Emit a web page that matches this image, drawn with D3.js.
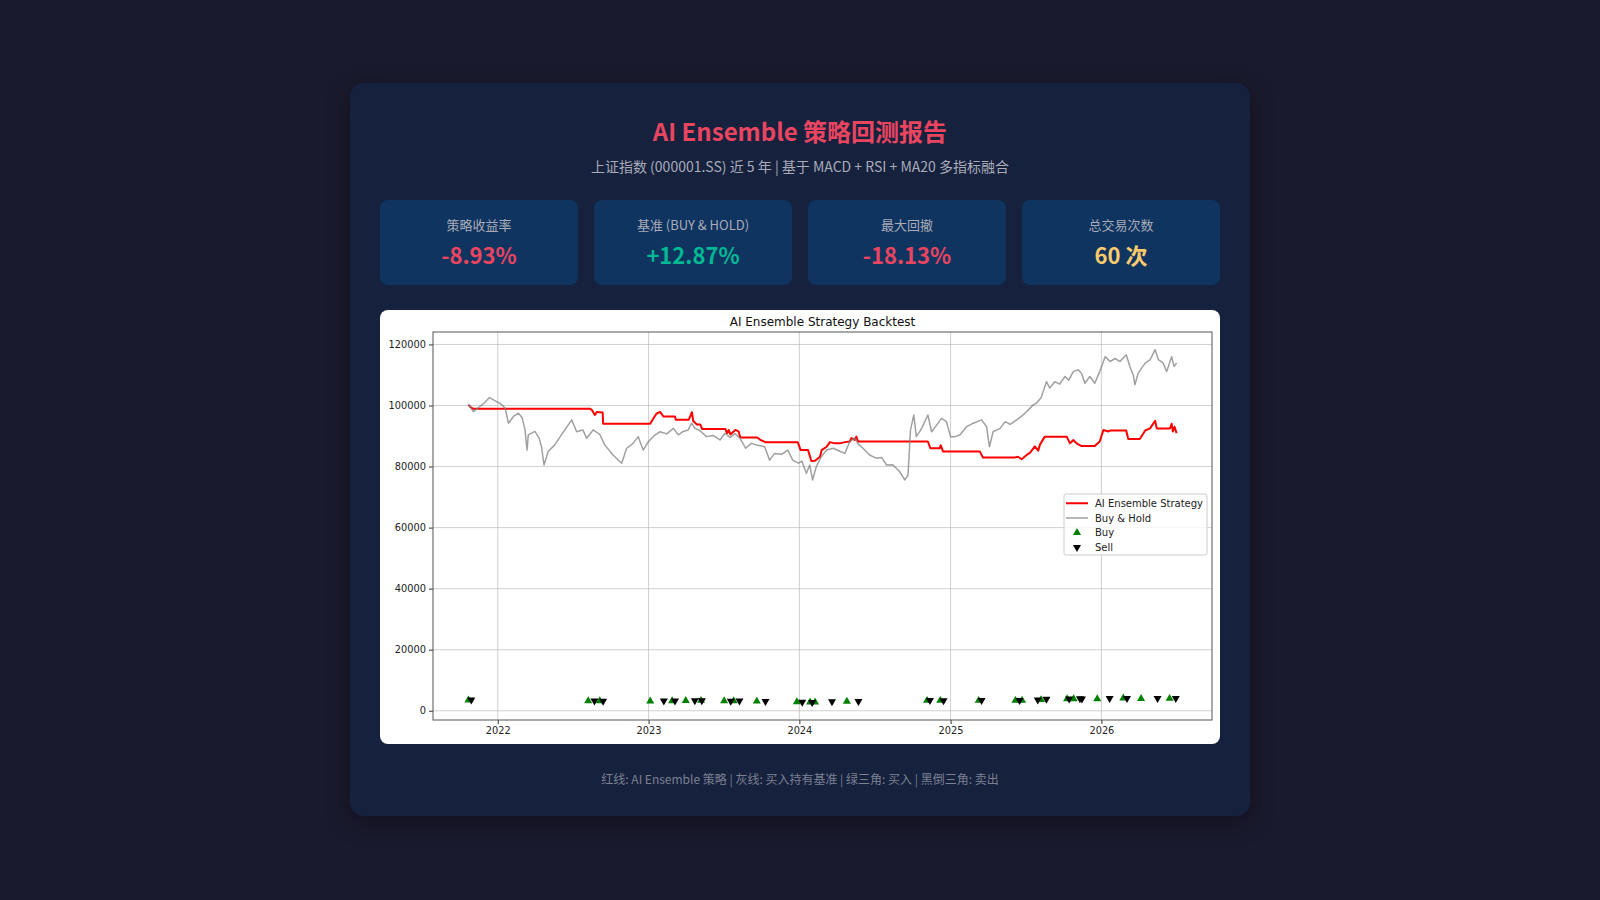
<!DOCTYPE html>
<html lang="zh">
<head>
<meta charset="utf-8">
<title>AI Ensemble 策略回测报告</title>
<script src="https://cdn.jsdelivr.net/npm/d3@7"></script>
<style>
  body { margin:0; width:1600px; height:900px; overflow:hidden; background:#1a1a2e;
         font-family:"Noto Sans CJK SC","Noto Sans",sans-serif; }
  .card { position:absolute; left:350px; top:83px; width:900px; height:733px; box-sizing:border-box;
          padding:30px 30px 28px 30px; background:#16213e; border-radius:14px;
          box-shadow:0 6px 24px rgba(0,0,0,0.35); }
  h1 { margin:0; font-size:24px; line-height:36px; text-align:center; color:#e94560; font-weight:700; }
  .sub { margin-top:7px; font-size:14px; line-height:20px; text-align:center; color:#a9abb8; }
  .stats { display:flex; gap:16px; margin-top:24px; }
  .stat { width:198px; height:85px; box-sizing:border-box; padding-top:15px; background:#0f3460;
          border-radius:8px; text-align:center; }
  .stat .lab { font-size:13px; line-height:20px; color:#a9abb8; }
  .stat .val { font-size:22px; line-height:30px; margin-top:4px; font-weight:700; }
  #chart { margin-top:25px; width:840px; height:434px; background:#fff; border-radius:8px; overflow:hidden; }
  .foot { margin-top:26px; font-size:12px; line-height:18px; text-align:center; color:#7c8091; }
</style>
</head>
<body>
<div class="card">
  <h1>AI Ensemble 策略回测报告</h1>
  <div class="sub">上证指数 (000001.SS) 近 5 年 | 基于 MACD + RSI + MA20 多指标融合</div>
  <div class="stats" id="stats"></div>
  <div id="chart"></div>
  <div class="foot">红线: AI Ensemble 策略 | 灰线: 买入持有基准 | 绿三角: 买入 | 黑倒三角: 卖出</div>
</div>
<script>
// summary numbers
var statLabels = ["策略收益率", "基准 (BUY & HOLD)", "最大回撤", "总交易次数"];
var statValues = ["-8.93%", "+12.87%", "-18.13%", "60 次"];
var statColors = ["#e94560", "#00b894", "#e94560", "#fdcb6e"];

// portfolio value of the strategy (red)
var strategy = [
  ["2021-10-22",100200],["2021-10-27",99500],["2021-11-02",98900],["2022-08-13",98900],["2022-08-17",98500],
  ["2022-08-24",96900],["2022-08-29",97900],["2022-09-05",97800],["2022-09-12",97700],["2022-09-13",94000],
  ["2023-01-05",94000],["2023-01-13",95800],["2023-01-20",97300],["2023-01-29",97900],["2023-02-06",96400],
  ["2023-03-06",96400],["2023-03-08",95300],["2023-04-08",95300],["2023-04-12",96500],["2023-04-16",97800],
  ["2023-04-19",94900],["2023-04-28",93800],["2023-05-06",93800],["2023-05-11",92300],["2023-07-06",92300],
  ["2023-07-10",90900],["2023-07-14",92000],["2023-07-18",90500],["2023-07-30",92000],["2023-08-07",91500],
  ["2023-08-11",89500],["2023-09-21",89500],["2023-09-29",88700],["2023-10-11",88000],["2023-12-28",88000],
  ["2024-01-01",86500],["2024-01-04",85400],["2024-01-22",85400],["2024-01-30",81800],["2024-02-08",81900],
  ["2024-02-20",83200],["2024-02-24",85400],["2024-03-07",86500],["2024-03-15",88000],["2024-03-27",87600],
  ["2024-04-08",87600],["2024-04-20",88000],["2024-05-02",88200],["2024-05-06",89300],["2024-05-14",88700],
  ["2024-05-18",89800],["2024-05-22",88200],["2024-11-07",88200],["2024-11-13",86000],["2024-12-06",86000],
  ["2024-12-08",87000],["2024-12-14",84900],["2025-03-13",84900],["2025-03-20",83000],["2025-06-06",83000],
  ["2025-06-13",83200],["2025-06-22",82400],["2025-07-04",83800],["2025-07-12",84500],["2025-07-24",86600],
  ["2025-08-01",85200],["2025-08-05",87100],["2025-08-17",89800],["2025-10-09",89800],["2025-10-17",87600],
  ["2025-10-25",88700],["2025-11-02",87600],["2025-11-14",86700],["2025-12-16",86700],["2025-12-28",88200],
  ["2026-01-06",92000],["2026-01-18",91500],["2026-01-22",91800],["2026-03-02",91800],["2026-03-07",89000],
  ["2026-04-04",89000],["2026-04-17",91800],["2026-04-29",92500],["2026-05-11",95000],["2026-05-15",92500],
  ["2026-06-16",92500],["2026-06-20",94000],["2026-06-23",91500],["2026-06-27",93000],["2026-07-02",90900]
];

// buy & hold benchmark (gray)
var buyHold = [
  ["2021-10-22",100400],["2021-11-03",98000],["2021-11-17",99500],["2021-11-29",100800],["2021-12-12",102600],
  ["2021-12-26",101500],["2022-01-09",100500],["2022-01-19",99100],["2022-01-27",94200],["2022-02-08",96400],
  ["2022-02-20",97500],["2022-03-01",96000],["2022-03-08",92000],["2022-03-13",85400],["2022-03-16",90400],
  ["2022-04-01",91500],["2022-04-11",89300],["2022-04-17",86500],["2022-04-23",80500],["2022-05-03",84900],
  ["2022-05-19",87100],["2022-06-04",90400],["2022-06-15",92500],["2022-06-29",95300],["2022-07-11",91400],
  ["2022-07-26",92000],["2022-08-04",89300],["2022-08-20",92000],["2022-09-05",90500],["2022-09-17",87100],
  ["2022-10-07",83800],["2022-10-28",81100],["2022-11-09",86000],["2022-11-24",87500],["2022-12-07",89800],
  ["2022-12-19",85400],["2023-01-01",88200],["2023-01-17",90400],["2023-01-29",91400],["2023-02-14",90700],
  ["2023-03-02",92500],["2023-03-14",90400],["2023-03-26",91500],["2023-04-07",92000],["2023-04-15",94200],
  ["2023-04-23",92500],["2023-05-05",91800],["2023-05-21",89800],["2023-06-06",90200],["2023-06-23",88700],
  ["2023-07-05",90900],["2023-07-17",89500],["2023-07-29",90800],["2023-08-10",89300],["2023-08-24",86000],
  ["2023-09-07",87600],["2023-09-22",87000],["2023-10-09",86500],["2023-10-21",82100],["2023-11-02",84300],
  ["2023-11-19",84000],["2023-12-04",85400],["2023-12-16",82100],["2023-12-30",81100],["2024-01-07",81800],
  ["2024-01-18",77800],["2024-01-26",80500],["2024-02-02",75600],["2024-02-11",80000],["2024-02-23",83200],
  ["2024-03-07",85400],["2024-03-23",86000],["2024-04-08",85000],["2024-04-20",84300],["2024-05-02",88200],
  ["2024-05-14",89300],["2024-05-22",87500],["2024-06-03",86000],["2024-06-19",83800],["2024-07-06",82700],
  ["2024-07-18",83000],["2024-07-30",80500],["2024-08-14",80600],["2024-08-31",78300],["2024-09-12",75600],
  ["2024-09-20",77200],["2024-09-26",92000],["2024-10-04",96900],["2024-10-10",89800],["2024-10-23",92500],
  ["2024-11-07",96900],["2024-11-16",91400],["2024-11-28",93500],["2024-12-10",95800],["2024-12-22",94700],
  ["2025-01-01",89800],["2025-01-12",89800],["2025-01-24",90400],["2025-02-09",93100],["2025-02-25",94200],
  ["2025-03-17",95300],["2025-03-29",93100],["2025-04-05",86500],["2025-04-14",91400],["2025-05-01",92500],
  ["2025-05-13",94700],["2025-05-25",93800],["2025-06-10",95300],["2025-06-22",96500],["2025-07-04",98000],
  ["2025-07-20",100200],["2025-07-28",100800],["2025-08-08",102500],["2025-08-21",107800],["2025-08-29",105700],
  ["2025-09-10",107800],["2025-09-22",107000],["2025-10-05",109500],["2025-10-14",108300],["2025-10-25",111100],
  ["2025-11-06",111700],["2025-11-14",110500],["2025-11-22",107300],["2025-12-04",109500],["2025-12-16",107300],
  ["2025-12-28",111100],["2026-01-10",116000],["2026-01-22",114400],["2026-02-03",115400],["2026-02-15",114400],
  ["2026-03-02",116600],["2026-03-11",112800],["2026-03-19",110000],["2026-03-23",106800],["2026-03-31",110600],
  ["2026-04-17",113900],["2026-04-29",115000],["2026-05-11",118300],["2026-05-19",115000],["2026-05-30",114000],
  ["2026-06-08",111100],["2026-06-20",116000],["2026-06-26",112800],["2026-07-02",113900]
];

// trade signals, plotted at the index close
var buys = [
  ["2021-10-22",3500],["2022-08-08",3250],["2022-09-05",3250],["2023-01-05",3150],["2023-02-27",3250],
  ["2023-04-01",3300],["2023-05-08",3350],["2023-07-03",3200],["2023-07-26",3200],["2023-09-20",3100],
  ["2023-12-26",2900],["2024-01-27",2800],["2024-02-08",2800],["2024-04-25",3050],["2024-11-05",3350],
  ["2024-12-07",3350],["2025-03-10",3350],["2025-06-07",3350],["2025-06-23",3400],["2025-08-08",3600],
  ["2025-10-10",3850],["2025-10-26",3900],["2025-12-22",3900],["2026-02-23",4100],["2026-04-07",3950],
  ["2026-06-15",4000]
];
var sells = [
  ["2021-10-29",3550],["2022-08-23",3250],["2022-09-13",3200],["2023-02-07",3250],["2023-03-06",3250],
  ["2023-04-23",3300],["2023-05-10",3300],["2023-07-19",3200],["2023-08-09",3250],["2023-10-11",3100],
  ["2024-01-08",2850],["2024-02-01",2750],["2024-03-20",3000],["2024-05-23",3100],["2024-11-12",3400],
  ["2024-12-15",3350],["2025-03-17",3400],["2025-06-17",3400],["2025-07-31",3600],["2025-08-21",3800],
  ["2025-10-15",3900],["2025-11-10",4000],["2025-11-15",3900],["2026-01-21",4100],["2026-03-04",4100],
  ["2026-05-17",4100],["2026-06-30",4050]
];

var yTicks = [0, 20000, 40000, 60000, 80000, 100000, 120000];
var legendLabels = ["AI Ensemble Strategy", "Buy & Hold", "Buy", "Sell"];

// stat boxes
d3.select("#stats").selectAll("div.stat")
  .data(statLabels)
  .enter().append("div").attr("class", "stat")
  .each(function(d, i) {
    var box = d3.select(this);
    box.append("div").attr("class", "lab").text(d);
    box.append("div").attr("class", "val").style("color", statColors[i]).text(statValues[i]);
  });

// chart
var w = 840, h = 434;
var margin = {top: 22, right: 8, bottom: 24, left: 53};
var parse = d3.timeParse("%Y-%m-%d");
var font = "'DejaVu Sans', sans-serif";

var allDates = strategy.concat(buyHold, buys, sells).map(function(d) { return parse(d[0]); });
var allVals = strategy.concat(buyHold, buys, sells).map(function(d) { return d[1]; });
var xe = d3.extent(allDates), ye = d3.extent(allVals);
var xPad = (xe[1] - xe[0]) * 0.05, yPad = (ye[1] - ye[0]) * 0.05;

var xScale = d3.scaleTime()
  .domain([new Date(+xe[0] - xPad), new Date(+xe[1] + xPad)])
  .range([margin.left, w - margin.right]);
var yScale = d3.scaleLinear()
  .domain([ye[0] - yPad, ye[1] + yPad])
  .range([h - margin.bottom, margin.top]);

var svg = d3.select("#chart").append("svg").attr("width", w).attr("height", h);

svg.append("text")
  .attr("x", (margin.left + w - margin.right) / 2).attr("y", 15.5)
  .attr("text-anchor", "middle")
  .attr("font-family", font).attr("font-size", "12px").attr("fill", "#111")
  .text("AI Ensemble Strategy Backtest");

// grid
var xTickVals = xScale.ticks(d3.timeYear.every(1));
svg.append("g").selectAll("line.gx").data(xTickVals).enter().append("line")
  .attr("x1", function(d) { return xScale(d); }).attr("x2", function(d) { return xScale(d); })
  .attr("y1", margin.top).attr("y2", h - margin.bottom)
  .attr("stroke", "#b0b0b0").attr("stroke-opacity", 0.6).attr("stroke-width", 1);
svg.append("g").selectAll("line.gy").data(yTicks).enter().append("line")
  .attr("x1", margin.left).attr("x2", w - margin.right)
  .attr("y1", function(d) { return yScale(d); }).attr("y2", function(d) { return yScale(d); })
  .attr("stroke", "#b0b0b0").attr("stroke-opacity", 0.6).attr("stroke-width", 1);

// lines
var line = d3.line()
  .x(function(d) { return xScale(parse(d[0])); })
  .y(function(d) { return yScale(d[1]); });

svg.append("path").datum(strategy).attr("d", line)
  .attr("fill", "none").attr("stroke", "#ff0000").attr("stroke-width", 2).attr("stroke-linejoin", "round");
svg.append("path").datum(buyHold).attr("d", line)
  .attr("fill", "none").attr("stroke", "#808080").attr("stroke-opacity", 0.75).attr("stroke-width", 1.5)
  .attr("stroke-linejoin", "round");

// markers
var tri = d3.symbol().type(d3.symbolTriangle).size(28);
svg.append("g").selectAll("path").data(buys).enter().append("path")
  .attr("d", tri)
  .attr("transform", function(d) { return "translate(" + xScale(parse(d[0])) + "," + yScale(d[1]) + ")"; })
  .attr("fill", "#008000");
svg.append("g").selectAll("path").data(sells).enter().append("path")
  .attr("d", tri)
  .attr("transform", function(d) { return "translate(" + xScale(parse(d[0])) + "," + yScale(d[1]) + ") rotate(180)"; })
  .attr("fill", "#000");

// axes
var xAxis = d3.axisBottom(xScale).tickValues(xTickVals).tickFormat(d3.timeFormat("%Y")).tickSize(4).tickPadding(3);
var yAxis = d3.axisLeft(yScale).tickValues(yTicks).tickFormat(d3.format("d")).tickSize(4).tickPadding(3);

var gx = svg.append("g").attr("transform", "translate(0," + (h - margin.bottom) + ")").call(xAxis);
var gy = svg.append("g").attr("transform", "translate(" + margin.left + ",0)").call(yAxis);
[gx, gy].forEach(function(g) {
  g.select(".domain").remove();
  g.selectAll(".tick line").attr("stroke", "#333");
  g.selectAll(".tick text").attr("font-family", font).attr("font-size", "9.8px").attr("fill", "#222");
});

svg.append("rect")
  .attr("x", margin.left).attr("y", margin.top)
  .attr("width", w - margin.left - margin.right).attr("height", h - margin.top - margin.bottom)
  .attr("fill", "none").attr("stroke", "#555").attr("stroke-width", 1);

// legend
var lg = svg.append("g").attr("transform", "translate(684,184)");
lg.append("rect").attr("width", 143).attr("height", 61).attr("rx", 2)
  .attr("fill", "#fff").attr("fill-opacity", 0.8).attr("stroke", "#ccc");
var item = lg.selectAll("g.item").data(legendLabels).enter().append("g")
  .attr("transform", function(d, i) { return "translate(0," + (9.3 + i * 14.7) + ")"; });
item.each(function(d, i) {
  var g = d3.select(this);
  if (i < 2) {
    g.append("line").attr("x1", 2).attr("x2", 24).attr("y1", 0).attr("y2", 0)
      .attr("stroke", i === 0 ? "#ff0000" : "#808080")
      .attr("stroke-opacity", i === 0 ? 1 : 0.75)
      .attr("stroke-width", i === 0 ? 2 : 1.5);
  } else {
    g.append("path").attr("d", tri)
      .attr("transform", "translate(13,0)" + (i === 3 ? " rotate(180)" : ""))
      .attr("fill", i === 2 ? "#008000" : "#000");
  }
  g.append("text").attr("x", 31).attr("y", 0).attr("dy", "0.35em")
    .attr("font-family", font).attr("font-size", "10px").attr("fill", "#222")
    .text(d);
});
</script>
</body>
</html>
